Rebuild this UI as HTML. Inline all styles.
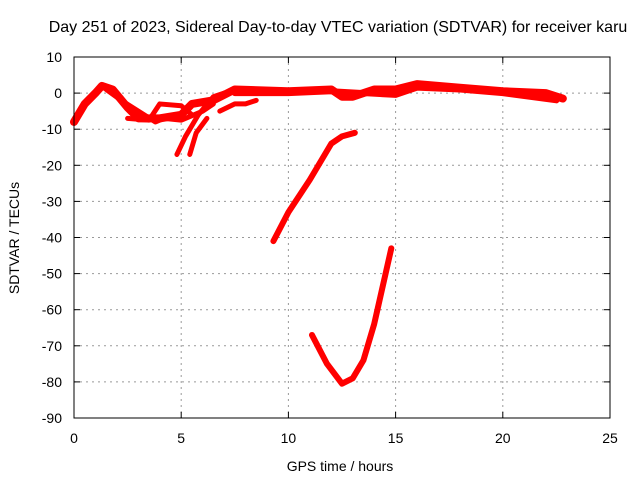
<!DOCTYPE html>
<html><head><meta charset="utf-8"><style>
body{margin:0;background:#fff}
svg{font-family:"Liberation Sans",sans-serif;font-size:14px}
</style></head><body>
<svg id="chart" width="640" height="480" xmlns="http://www.w3.org/2000/svg">
<text x="338" y="32" text-anchor="middle" font-size="16">Day 251 of 2023, Sidereal Day-to-day VTEC variation (SDTVAR) for receiver karu</text>
<text x="340" y="471" text-anchor="middle">GPS time / hours</text>
<text transform="translate(19,238) rotate(-90)" text-anchor="middle">SDTVAR / TECUs</text>
<g id="grid"></g><g id="series"></g>
<rect x="74" y="57" width="536" height="361" fill="none" stroke="#000" stroke-width="1"/>
</svg>
<script>
const xTicks=[0,5,10,15,20,25];
const yTicks=[10,0,-10,-20,-30,-40,-50,-60,-70,-80,-90];
const seriesMainX=[0,0.5,1.0,1.3,1.8,2.5,3,4,5,5.5,6.5,7.5,10,12,12.5,13,14,15,16,18,20,22,22.8];
const seriesMainY=[-8,-3,0,2,1,-4,-7,-7,-6,-3,-2,1,0.5,1,-1,-1,1,1,2.5,1.5,0.5,0,-1.5];
const seriesB1X=[1.5,2.2,3,3.8,4.2,5,6,6.5];
const seriesB1Y=[1,-2,-5,-8,-7,-7.5,-5,-3];
const seriesB2X=[2.5,3.5,4,5,5.5];
const seriesB2Y=[-7,-7.5,-3,-3.5,-6];
const seriesD1X=[4.8,5.2,5.8,6.5,7];
const seriesD1Y=[-17,-12,-6,-1,0];
const seriesD2X=[5.4,5.7,6.2];
const seriesD2Y=[-17,-11,-7];
const seriesS1X=[6.8,7.5,8,8.5];
const seriesS1Y=[-5,-3,-3,-2];
const seriesU2X=[7.5,10,12,15,16,18,20,22.5];
const seriesU2Y=[0,0,0.5,-0.5,1.5,1,0,-2];
const seriesLongX=[9.3,10,11,12,12.5,13.1];
const seriesLongY=[-41,-33,-24,-14,-12,-11];
const seriesVX=[11.1,11.8,12.5,13,13.5,14,14.8];
const seriesVY=[-67,-75,-80.5,-79,-74,-64,-43];
const sx=v=>74+v*536/25, sy=v=>57+(10-v)*361/100;
const NS="http://www.w3.org/2000/svg";
const svg=document.getElementById('chart'),g=document.getElementById('grid'),s=document.getElementById('series');
function mk(t,a,p){const e=document.createElementNS(NS,t);for(const k in a)e.setAttribute(k,a[k]);p.appendChild(e);return e;}
xTicks.forEach(v=>{const x=sx(v);
 if(v>0&&v<25){const l=mk('line',{x1:x,x2:x,y1:57,y2:418,stroke:'#999','stroke-dasharray':'2,4'},g);
 
 }
 mk('line',{x1:x,x2:x,y1:418,y2:412,stroke:'#000'},g);mk('line',{x1:x,x2:x,y1:57,y2:63,stroke:'#000'},g);
 const t=mk('text',{x:x,y:443,'text-anchor':'middle'},svg);t.textContent=v;
 
 });
yTicks.forEach(v=>{const y=sy(v);
 if(v<10&&v>-90){const l=mk('line',{x1:74,x2:610,y1:y,y2:y,stroke:'#999','stroke-dasharray':'2,4'},g);
 
 }
 mk('line',{x1:74,x2:80,y1:y,y2:y,stroke:'#000'},g);mk('line',{x1:604,x2:610,y1:y,y2:y,stroke:'#000'},g);
 const t=mk('text',{x:62,y:y+5,'text-anchor':'end'},svg);t.textContent=v;
 
 });
const all=[[seriesMainX,seriesMainY,8],[seriesU2X,seriesU2Y,6],[seriesB1X,seriesB1Y,5],[seriesB2X,seriesB2Y,5],[seriesD1X,seriesD1Y,5],[seriesD2X,seriesD2Y,5],[seriesS1X,seriesS1Y,5],[seriesLongX,seriesLongY,6],[seriesVX,seriesVY,6]];
all.forEach(([X,Y,w])=>{const pts=X.map((x,i)=>sx(x)+','+sy(Y[i])).join(' ');
 const p=mk('polyline',{points:pts,fill:'none',stroke:'#ff0000','stroke-width':w,'stroke-linejoin':'round','stroke-linecap':'round'},s);
 
 });
</script>
</body></html>
